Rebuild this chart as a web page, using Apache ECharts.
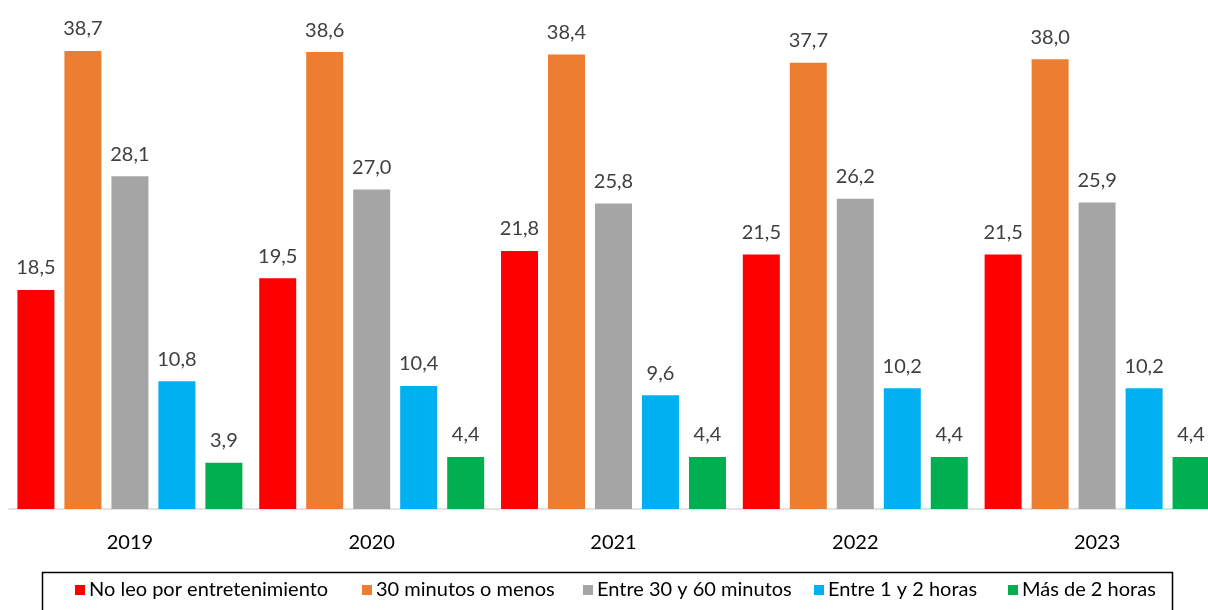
<!DOCTYPE html>
<html><head><meta charset="utf-8">
<script src="https://cdn.jsdelivr.net/npm/echarts@6/dist/echarts.min.js"></script>
<style>html,body{margin:0;padding:0;background:#fff}#c{width:1208px;height:610px}</style>
</head><body><div id="c"></div>
<script>
const categories = ['2019','2020','2021','2022','2023'];
const seriesNames = ['No leo por entretenimiento','30 minutos o menos','Entre 30 y 60 minutos','Entre 1 y 2 horas','Más de 2 horas'];
const noLeo = [18.5, 19.5, 21.8, 21.5, 21.5];
const menos30 = [38.7, 38.6, 38.4, 37.7, 38.0];
const entre30y60 = [28.1, 27.0, 25.8, 26.2, 25.9];
const entre1y2 = [10.8, 10.4, 9.6, 10.2, 10.2];
const mas2 = [3.9, 4.4, 4.4, 4.4, 4.4];
const colors = ['#FF0000','#ED7D31','#A5A5A5','#00B0F0','#00B050'];
const values = [noLeo, menos30, entre30y60, entre1y2, mas2];
const legendLefts = [75, 362, 583, 814, 1008];

const font = 'Lato, "Liberation Sans", sans-serif';
function render(){
const chart = echarts.init(document.getElementById('c'), null, {renderer:'canvas'});
chart.setOption({
  animation:false,
  textStyle:{fontFamily:font},
  grid:{left:9, top:0, right:-10, bottom:101, containLabel:false, outerBoundsMode:'none'},
  xAxis:{type:'category', data:categories,
    axisLine:{lineStyle:{color:'#D9D9D9', width:1.5}},
    axisTick:{show:false},
    axisLabel:{color:'#000', fontSize:20, margin:24, fontFamily:font}},
  yAxis:{type:'value', min:0, max:43, show:false, splitLine:{show:false}},
  legend: seriesNames.map((n,i)=>({show:true, data:[n], left:legendLefts[i], top:580, itemWidth:10, itemHeight:10, icon:'rect',
    padding:0, textStyle:{fontSize:20, color:'#000', fontFamily:font, padding:[0,0,0,-1]}})),
  graphic:[{type:'rect', shape:{x:42.5, y:572.5, width:1130, height:50}, style:{fill:'none', stroke:'#000', lineWidth:1.5}, silent:true}],
  series: values.map((v,i)=>({
    name: seriesNames[i], type:'bar', data:v, barWidth:37, barGap:'27%',
    itemStyle:{color:colors[i]},
    label:{show:true, position:'top', distance:12, fontSize:20, color:'#404040', fontFamily:font,
      formatter:p=>p.value.toFixed(1).replace('.',',')}
  }))
});
}
if (document.fonts && document.fonts.load) {
  document.fonts.load('20px Lato').then(render, render);
} else { render(); }
</script></body></html>
